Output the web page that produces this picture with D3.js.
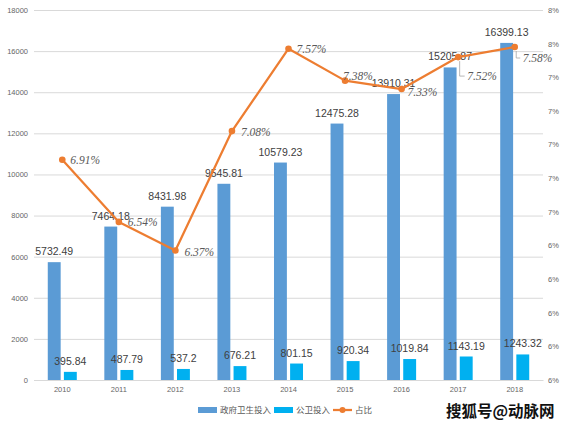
<!DOCTYPE html>
<html><head><meta charset="utf-8">
<script src="https://cdn.jsdelivr.net/npm/d3@7/dist/d3.min.js"></script>
<style>html,body{margin:0;padding:0;background:#fff;}svg{display:block;}</style>
</head><body><svg id="c" width="567" height="426"></svg>
<script>
const years = ["2010","2011","2012","2013","2014","2015","2016","2017","2018"];
const govInvest = [5732.49,7464.18,8431.98,9545.81,10579.23,12475.28,13910.31,15205.87,16399.13];
const publicHealth = [395.84,487.79,537.2,676.21,801.15,920.34,1019.84,1143.19,1243.32];
const ratio = [6.91,6.54,6.37,7.08,7.57,7.38,7.33,7.52,7.58];
const leftTicks = [0,2000,4000,6000,8000,10000,12000,14000,16000,18000];
const rightTicks = [5.6,5.8,6.0,6.2,6.4,6.6,6.8,7.0,7.2,7.4,7.6,7.8];
const seriesNames = ["政府卫生投入","公卫投入","占比"];

// label placement offsets for ratio labels [dx, dy, leader]
const pctOffsets = [[8,0,0],[9,0,0],[9,1,0],[9,1,0],[8,0,0],[-2,-5,0],[6,3,0],[9,19,1],[8,11,1]];

const svg = d3.select("#c");
const L = 34, R = 543, T = 10, B = 380;
const x0 = d3.scaleBand().domain(years).range([L,R]).paddingInner(0.487).paddingOuter(0.2435);
const x1 = d3.scaleBand().domain([0,1]).range([0,x0.bandwidth()]).paddingInner(0.2).paddingOuter(0);
const y = d3.scaleLinear().domain([0,18000]).range([B,T]);
const y2 = d3.scaleLinear().domain([5.6,7.8]).range([B,T]);
const cx = d => x0(d) + x0.bandwidth()/2;

// gridlines
svg.append("g").selectAll("line").data(leftTicks).join("line")
  .attr("x1",L).attr("x2",R).attr("y1",d=>y(d)+0.5).attr("y2",d=>y(d)+0.5)
  .attr("stroke","#d9d9d9").attr("stroke-width",1);

// left axis
const la = svg.append("g").attr("transform",`translate(${L},0)`)
  .call(d3.axisLeft(y).tickValues(leftTicks).tickSize(0).tickPadding(6).tickFormat(d3.format("d")));
la.select(".domain").remove();
la.selectAll("text").attr("font-family","Liberation Sans, Arial").attr("font-size","7.5px").attr("fill","#666");

// right axis
const ra = svg.append("g").attr("transform",`translate(${R},0)`)
  .call(d3.axisRight(y2).tickValues(rightTicks).tickSize(0).tickPadding(5).tickFormat(d=>Math.round(d)+"%"));
ra.select(".domain").remove();
ra.selectAll("text").attr("font-family","Liberation Sans, Arial").attr("font-size","7.5px").attr("fill","#666");

// bottom axis
const ba = svg.append("g").attr("transform",`translate(0,${B})`)
  .call(d3.axisBottom(x0).tickSize(0).tickPadding(7));
ba.select(".domain").attr("stroke","#d9d9d9");
ba.selectAll("text").attr("font-family","Liberation Sans, Arial").attr("font-size","7.5px").attr("fill","#666");

// bars
const colors = ["#5b9bd5","#00b0f0"];
[govInvest, publicHealth].forEach((vals,si)=>{
  svg.append("g").selectAll("rect").data(vals).join("rect")
    .attr("x",(d,i)=>x0(years[i])+x1(si)).attr("width",x1.bandwidth())
    .attr("y",d=>y(d)).attr("height",d=>B-y(d)).attr("fill",colors[si]);
});

// bar labels
[govInvest, publicHealth].forEach((vals,si)=>{
  svg.append("g").selectAll("text").data(vals).join("text")
    .attr("x",(d,i)=>x0(years[i])+x1(si)+x1.bandwidth()/2).attr("y",d=>y(d)-7)
    .attr("text-anchor","middle").attr("font-family","Liberation Sans, Arial").attr("font-size","10.5px")
    .attr("fill","#404040").text(d=>d);
});

// line
const line = d3.line().x((d,i)=>cx(years[i])).y(d=>y2(d));
svg.append("path").datum(ratio).attr("d",line).attr("fill","none").attr("stroke","#ed7d31").attr("stroke-width",2.25).attr("stroke-linejoin","round");
svg.append("g").selectAll("circle").data(ratio).join("circle")
  .attr("cx",(d,i)=>cx(years[i])).attr("cy",d=>y2(d)).attr("r",3.3).attr("fill","#ed7d31");

// leader lines
ratio.forEach((d,i)=>{
  const o = pctOffsets[i];
  if(o[2]){
    const px = cx(years[i])+1.5, py = y2(d);
    svg.append("path").attr("d",`M${px},${py+4}V${py+o[1]}H${px+o[0]-4}`)
      .attr("fill","none").attr("stroke","#a6a6a6").attr("stroke-width",0.8);
  }
});

// pct labels
svg.append("g").selectAll("text").data(ratio).join("text")
  .attr("x",(d,i)=>cx(years[i])+pctOffsets[i][0]).attr("y",(d,i)=>y2(d)+pctOffsets[i][1])
  .attr("dy","0.35em").attr("font-family","Liberation Serif, Times New Roman").attr("font-style","italic")
  .attr("font-size","11.5px").attr("fill","#595959").text(d=>d.toFixed(2)+"%");

// legend
const lg = svg.append("g").attr("font-family","Noto Sans CJK SC, sans-serif").attr("font-size","8.5px").attr("fill","#595959");
lg.append("rect").attr("x",198).attr("y",407).attr("width",19).attr("height",6).attr("fill",colors[0]);
lg.append("text").attr("x",220).attr("y",410).attr("dy","0.35em").text(seriesNames[0]);
lg.append("rect").attr("x",274).attr("y",407).attr("width",19).attr("height",6).attr("fill",colors[1]);
lg.append("text").attr("x",296).attr("y",410).attr("dy","0.35em").text(seriesNames[1]);
lg.append("line").attr("x1",333).attr("x2",352).attr("y1",410).attr("y2",410).attr("stroke","#ed7d31").attr("stroke-width",2.25);
lg.append("circle").attr("cx",342.5).attr("cy",410).attr("r",3).attr("fill","#ed7d31");
lg.append("text").attr("x",355).attr("y",410).attr("dy","0.35em").text(seriesNames[2]);

// watermark
svg.append("text").attr("x",446).attr("y",412).attr("dy","0.35em").attr("font-family","Noto Sans CJK SC")
  .attr("font-size","15.5px").attr("font-weight","bold").attr("fill","#111")
  .attr("stroke","#fff").attr("stroke-width",2.5).attr("paint-order","stroke").text("搜狐号@动脉网");
</script></body></html>
